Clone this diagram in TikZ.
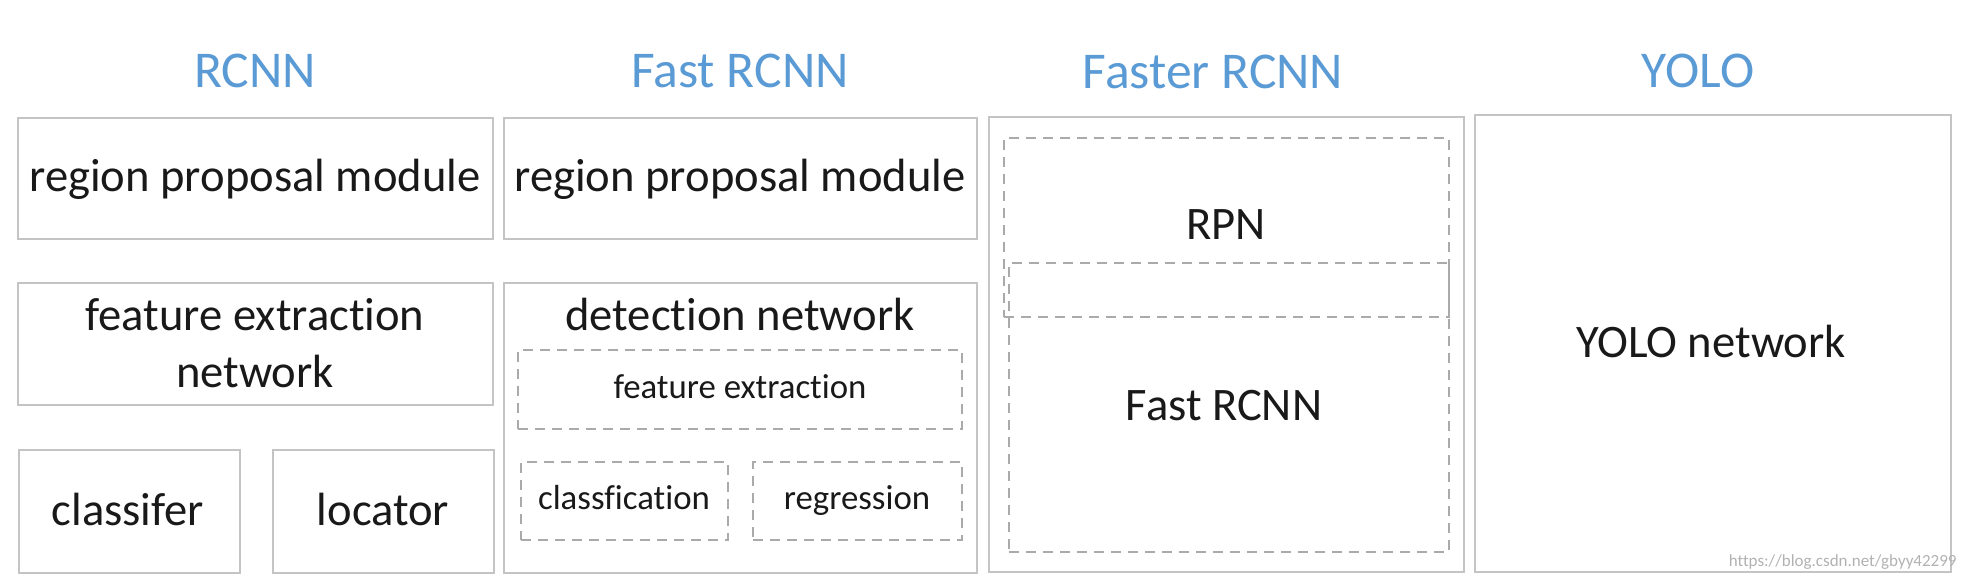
\documentclass[tikz,border=0pt]{standalone}
\usepackage{fontspec}
\setmainfont[Ligatures=NoCommon]{Carlito}
\usetikzlibrary{fit}
\definecolor{titleblue}{RGB}{91,155,213}
\definecolor{boxgray}{RGB}{196,196,196}
\definecolor{dashgray}{RGB}{170,170,170}
\begin{document}
\begin{tikzpicture}[x=0.5pt,y=-0.5pt,
  box/.style={draw=boxgray,line width=1.3pt,inner sep=0pt},
  dbox/.style={draw=dashgray,line width=1pt,dash pattern=on 5pt off 3.5pt,inner sep=0pt},
  title/.style={text=titleblue,font=\fontsize{25.8}{30}\selectfont,anchor=base,inner sep=0pt},
  body/.style={text=black!90,font=\fontsize{23.3}{28}\selectfont,anchor=base,inner sep=0pt},
  small/.style={text=black!90,font=\fontsize{17.4}{21}\selectfont,anchor=base,inner sep=0pt}]
\useasboundingbox[fill=white] (0,0) rectangle (1963,577);
% titles
\node[title] (t1) at (255,88) {RCNN};
\node[title] (t2) at (740,88) {Fast RCNN};
\node[title] (t3) at (1213,89) {Faster RCNN};
\node[title] (t4) at (1698,88) {YOLO};
% RCNN column
\node[box,fit={(18,118) (493,239)}] (r1) {};
\node[body] (r1t) at (255,192) {region proposal module};
\node[box,fit={(18,283) (493,405)}] (r2) {};
\node[body] (r2t) at (255,330) {feature extraction};
\node[body] (r2u) at (255,387) {network};
\node[box,fit={(19,450) (240,573)}] (r3) {};
\node[body] (r3t) at (128,525) {classifer};
\node[box,fit={(273,450) (494,573)}] (r4) {};
\node[body] (r4t) at (383,525) {locator};
% Fast RCNN column
\node[box,fit={(504,118) (977,239)}] (f1) {};
\node[body] (f1t) at (740,192) {region proposal module};
\node[box,fit={(504,283) (977,573)}] (f2) {};
\node[body] (f2t) at (740,330) {detection network};
\node[dbox,fit={(518,350) (962,429)}] (f3) {};
\node[small] (f3t) at (740,398) {feature extraction};
\node[dbox,fit={(521,462) (728,540)}] (f4) {};
\node[small] (f4t) at (624,509) {classfication};
\node[dbox,fit={(753,462) (962,540)}] (f5) {};
\node[small] (f5t) at (857,509) {regression};
% Faster RCNN column
\node[box,fit={(989,117) (1464,572)}] (g1) {};
\node[dbox,fit={(1004,138) (1449,317)}] (g2) {};
\node[dbox,fit={(1009,263) (1449,552)}] (g3) {};
\node[body] (g2t) at (1226,240) {RPN};
\node[body] (g3t) at (1224,420) {Fast RCNN};
% YOLO column
\node[box,fit={(1475,115) (1951,572)}] (y1) {};
\node[body] (y1t) at (1711,357) {YOLO network};
% watermark
\node[text=black!30,font=\fontsize{8.5}{10}\selectfont,anchor=base east,inner sep=0pt] (wm) at (1957,566) {https://blog.csdn.net/gbyy42299};
\end{tikzpicture}
\end{document}
